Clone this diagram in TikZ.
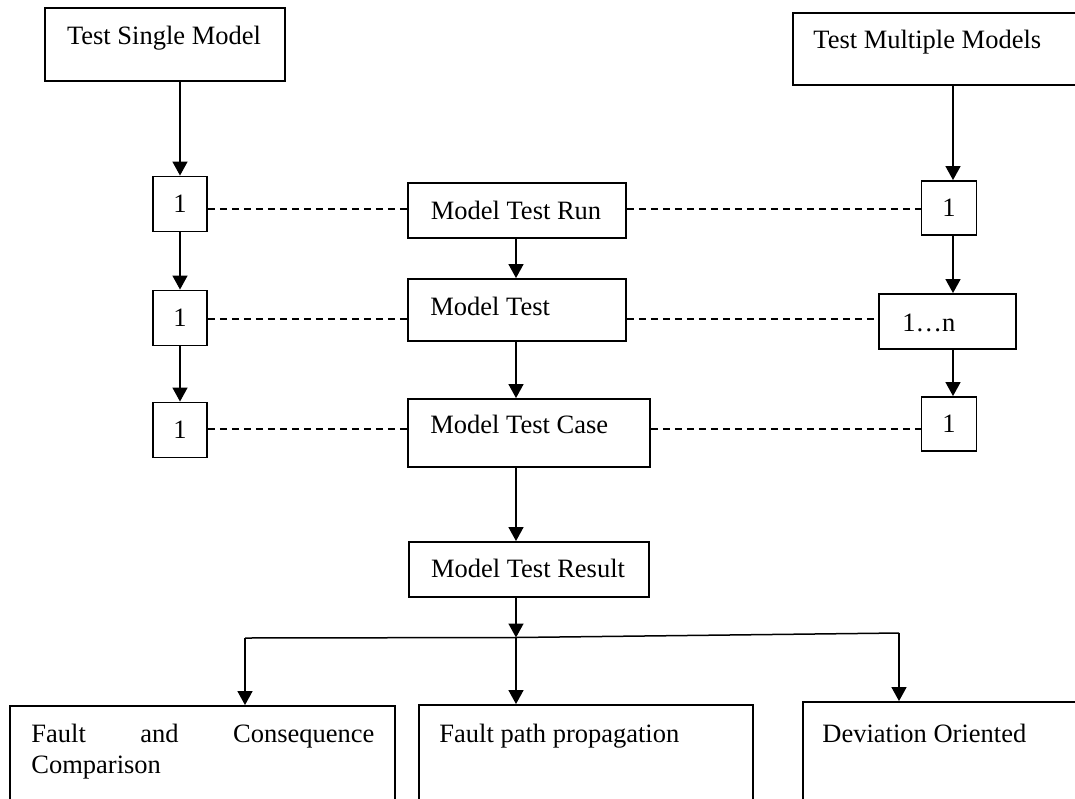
\documentclass[tikz,border=0pt]{standalone}
\usepackage{fontspec}
\setmainfont{Liberation Serif}
\usetikzlibrary{arrows.meta}
\begin{document}
\begin{tikzpicture}[x=0.5pt,y=-0.5pt,
  box/.style={draw, line width=0.95pt, inner sep=0pt, font=\fontsize{13.25}{15.5}\selectfont},
  txt/.style={inner sep=0pt, font=\fontsize{13.25}{15.5}\selectfont},
  arr/.style={line width=0.75pt, -{Triangle[length=7pt,width=7.5pt]}},
  link/.style={line width=0.75pt},
  dashlink/.style={line width=0.75pt, dash pattern=on 3.6pt off 2.4pt}]
\useasboundingbox (0,0) rectangle (1075,798);
\clip (0,0) rectangle (1075,798);
% boxes
\node[box, minimum width=120pt, minimum height=36.5pt] (tsm) at (165,44.5) {};
\node[box, minimum width=151pt, minimum height=36pt] (tmm) at (944,49) {};
\node[box, minimum width=27pt, minimum height=27.5pt] (l1) at (180,204) {1};
\node[box, minimum width=27pt, minimum height=27.5pt] (l2) at (180,318) {1};
\node[box, minimum width=27pt, minimum height=27.5pt] (l3) at (180,430) {1};
\node[box, minimum width=109pt, minimum height=27.5pt] (mtr) at (517,210.5) {};
\node[box, minimum width=109pt, minimum height=31pt] (mt) at (517,310) {};
\node[box, minimum width=121pt, minimum height=34pt] (mtc) at (529,433) {};
\node[box, minimum width=120pt, minimum height=27.5pt] (mtres) at (529,569.5) {};
\node[box, minimum width=27.5pt, minimum height=27pt] (r1) at (949,208) {1};
\node[box, minimum width=68.5pt, minimum height=27.5pt] (rn) at (947.5,321.5) {};
\node[box, minimum width=27.5pt, minimum height=27pt] (r3) at (949,424) {1};
\node[box, minimum width=192.5pt, minimum height=67pt] (fc) at (202.5,773) {};
\node[box, minimum width=167pt, minimum height=67.5pt] (fp) at (586,772.5) {};
\node[box, minimum width=146pt, minimum height=69pt] (dv) at (949,771) {};
% texts
\node[txt, anchor=base] (tsmt) at (164,44) {Test Single Model};
\node[txt, anchor=base west] (tmmt) at (813,48) {Test Multiple Models};
\node[txt, anchor=base] (mtrt) at (516,219) {Model Test Run};
\node[txt, anchor=base west] (mtt) at (430,315) {Model Test};
\node[txt, anchor=base west] (mtct) at (430,433) {Model Test Case};
\node[txt, anchor=base] (mtrest) at (528,577) {Model Test Result};
\node[txt, anchor=base west] (rnt) at (902,331) {1…n};
\node[txt, anchor=base west] (fct1) at (31,742) {\makebox[171.5pt][s]{Fault and Consequence}};
\node[txt, anchor=base west] (fct2) at (31,773) {Comparison};
\node[txt, anchor=base west] (fpt) at (439,742) {Fault path propagation};
\node[txt, anchor=base west] (dvt) at (822,742) {Deviation Oriented};
% junction coordinates
\coordinate (jl) at (245,638);
\coordinate (jm) at (516,637.5);
\coordinate (jr) at (899,633);
\coordinate (rx) at (953,0);
% left column arrows
\draw[arr] (tsm.south -| l1) -- (l1.north);
\draw[arr] (l1.south) -- (l2.north);
\draw[arr] (l2.south) -- (l3.north);
% right column arrows
\draw[arr] (tmm.south -| rx) -- (r1.north -| rx);
\draw[arr] (r1.south -| rx) -- (rn.north -| rx);
\draw[arr] (rn.south -| rx) -- (r3.north -| rx);
% middle column arrows
\draw[arr] (mtr.south -| jm) -- (mt.north -| jm);
\draw[arr] (mt.south -| jm) -- (mtc.north -| jm);
\draw[arr] (mtc.south -| jm) -- (mtres.north -| jm);
\draw[arr] (mtres.south -| jm) -- (jm);
% branch
\draw[link] (jl) -- (jm) -- (jr);
\draw[arr] (jl) -- (jl |- fc.north);
\draw[arr] (jm) -- (jm |- fp.north);
\draw[arr] (jr) -- (jr |- dv.north);
% dashed links
\coordinate (y1) at (0,209);
\coordinate (y2) at (0,319);
\coordinate (y3) at (0,429);
\draw[dashlink] (l1.east |- y1) -- (mtr.west |- y1);
\draw[dashlink] (mtr.east |- y1) -- (r1.west |- y1);
\draw[dashlink] (l2.east |- y2) -- (mt.west |- y2);
\draw[dashlink] (mt.east |- y2) -- (rn.west |- y2);
\draw[dashlink] (l3.east |- y3) -- (mtc.west |- y3);
\draw[dashlink] (mtc.east |- y3) -- (r3.west |- y3);
\end{tikzpicture}
\end{document}
